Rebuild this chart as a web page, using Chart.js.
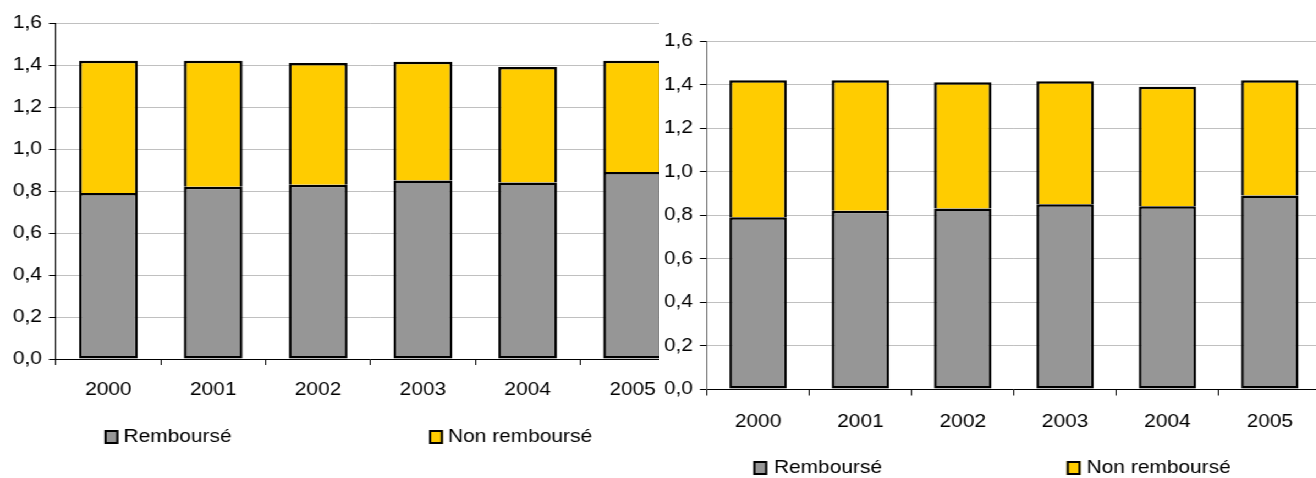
<!DOCTYPE html>
<html><head><meta charset="utf-8">
<script src="https://cdn.jsdelivr.net/npm/chart.js@4.4.1/dist/chart.umd.min.js"></script>
<style>
html,body{margin:0;padding:0;background:#fff;overflow:hidden;width:1316px;height:478px;}
.wrap{position:absolute;top:0;height:478px;transform-origin:0 0;transform:scaleX(1.1);background:#fff;}
</style></head><body>
<div class="wrap" id="w1" style="left:0;width:640px"><canvas id="c1"></canvas></div>
<div class="wrap" id="w2" style="left:659px;width:620px"><canvas id="c2"></canvas></div>
<script>
// ---- data ----
const years = ['2000', '2001', '2002', '2003', '2004', '2005'];
const rembourse = [0.79, 0.82, 0.83, 0.85, 0.84, 0.89];
const nonRembourse = [0.63, 0.60, 0.58, 0.565, 0.55, 0.53];
const seriesNames = ['Remboursé', 'Non remboursé'];
const yMin = 0, yMax = 1.6, yStep = 0.2;

const FONT = '"Liberation Sans", Arial, sans-serif';
const FS = 19;
Chart.defaults.font.family = FONT;
Chart.defaults.font.size = FS;
Chart.defaults.color = '#000';

const keyLegend = {
  id: 'keyLegend',
  afterDraw(chart, args, opts) {
    const ctx = chart.ctx;
    ctx.save();
    ctx.font = FS + 'px ' + FONT;
    ctx.textBaseline = 'middle';
    chart.data.datasets.forEach((ds, i) => {
      const it = opts.items[i];
      const top = opts.y - opts.h / 2;
      ctx.fillStyle = ds.backgroundColor;
      ctx.fillRect(it.box, top, opts.w, opts.h);
      ctx.lineWidth = 2;
      ctx.strokeStyle = '#000';
      ctx.strokeRect(it.box + 1, top + 1, opts.w - 2, opts.h - 2);
      ctx.fillStyle = '#000';
      ctx.fillText(ds.label, it.text, opts.y);
    });
    ctx.restore();
  }
};

function makeChart(id, L) {
  return new Chart(document.getElementById(id), {
    type: 'bar',
    data: {
      labels: years,
      datasets: [
        { label: seriesNames[0], data: rembourse, backgroundColor: '#969696', borderColor: '#000', borderWidth: 2.5, borderSkipped: false },
        { label: seriesNames[1], data: nonRembourse, backgroundColor: '#FFCC00', borderColor: '#000', borderWidth: 2.5, borderSkipped: 'bottom' }
      ]
    },
    options: {
      responsive: true,
      maintainAspectRatio: false,
      animation: false,
      barPercentage: 0.56,
      categoryPercentage: 1,
      layout: { padding: { top: L.top, left: 0, right: L.right, bottom: 0 } },
      plugins: {
        legend: { display: false },
        tooltip: { enabled: false },
        keyLegend: L.legend
      },
      scales: {
        x: {
          stacked: true,
          grid: { display: true, drawOnChartArea: false, drawTicks: true, tickLength: L.xTick, tickColor: '#000', offset: true },
          border: { display: true, color: '#000', width: 1 },
          ticks: { padding: L.xPad, maxRotation: 0, color: '#000' },
          afterFit: s => { s.height = L.xH; }
        },
        y: {
          stacked: true,
          min: yMin, max: yMax,
          grid: { color: '#c0c0c0', tickColor: '#000', tickLength: 6.4, lineWidth: 1 },
          border: { display: true, color: L.yAxisColor, width: 1 },
          ticks: { stepSize: yStep, padding: 6.4, color: '#000',
            callback: v => Number(v).toFixed(1).replace('.', ',') },
          afterFit: s => { s.width = L.yW; }
        }
      }
    },
    plugins: [keyLegend]
  });
}

makeChart('c1', {
  top: 23, right: 17.3, xH: 119, yW: 50.9, xTick: 6, xPad: 13.6, yAxisColor: '#000',
  legend: { y: 437, w: 12.7, h: 14, items: [{ box: 94.9, text: 112.3 }, { box: 390, text: 407.3 }] }
});
makeChart('c2', {
  top: 41, right: 18.2, xH: 89, yW: 43.6, xTick: 6.5, xPad: 14.6, yAxisColor: '#666',
  legend: { y: 468, w: 12.7, h: 14, items: [{ box: 85.7, text: 104.5 }, { box: 370.6, text: 388.8 }] }
});
</script>
</body></html>
